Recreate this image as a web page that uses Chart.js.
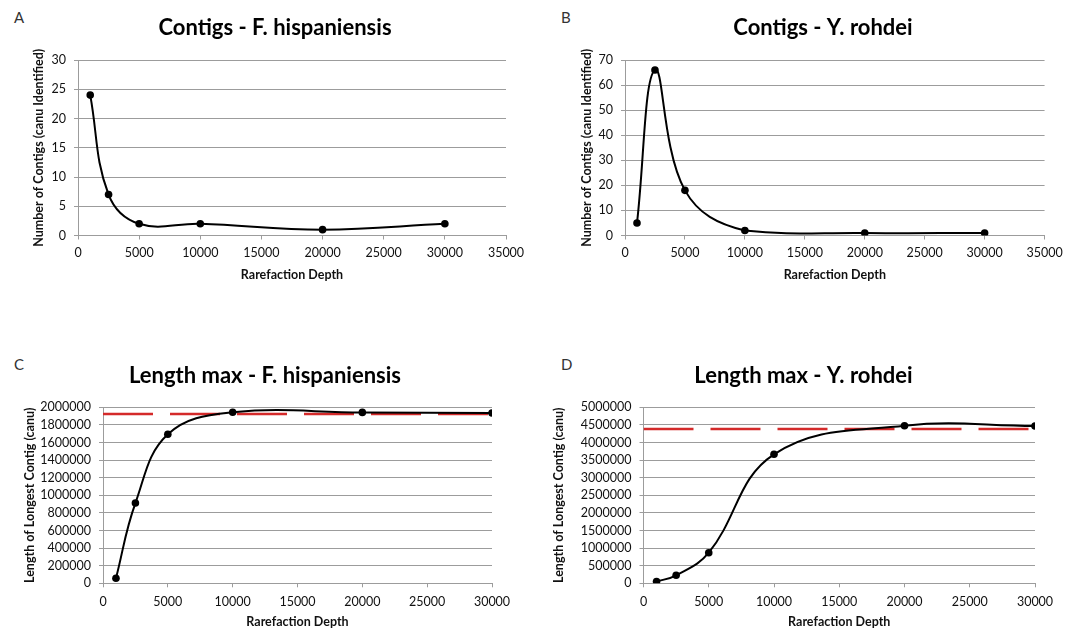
<!DOCTYPE html>
<html lang="en">
<head>
  <meta charset="UTF-8">
  <title>Rarefaction - contigs and longest contig</title>
  <script src="https://cdn.jsdelivr.net/npm/chart.js"></script>
  <style>
    html, body {
      margin: 0;
      padding: 0;
      width: 1069px;
      height: 629px;
      overflow: hidden;
      background: #ffffff;
      font-family: Lato, sans-serif;
    }
    canvas { position: absolute; }
    .tag {
      position: absolute;
      font-size: 15px;
      line-height: 1;
      color: #333;
    }
  </style>
</head>
<body>
  <div class="tag" style="left:14px;top:10px">A</div>
  <div class="tag" style="left:561px;top:10px">B</div>
  <div class="tag" style="left:14px;top:357px">C</div>
  <div class="tag" style="left:561px;top:357px">D</div>

  <canvas id="chartA" width="550" height="290" style="left:0;top:0"></canvas>
  <canvas id="chartB" width="492" height="290" style="left:577px;top:0"></canvas>
  <canvas id="chartC" width="530" height="309" style="left:0;top:320px"></canvas>
  <canvas id="chartD" width="527" height="309" style="left:540px;top:320px"></canvas>

  <script>
    // rarefaction depths
    const depth = [1000, 2500, 5000, 10000, 20000, 30000];

    // number of contigs
    const contigsFhisp = [24, 7, 2, 2, 1, 2];
    const contigsYroh = [5, 66, 18, 2, 1, 1];

    // length of longest contig
    const maxLenFhisp = [57000, 912000, 1693000, 1943000, 1942000, 1936000];
    const maxLenYroh = [48000, 227000, 869000, 3665000, 4477000, 4469000];

    // genome size reference (red dashed)
    const refX = [0, 30000];
    const refFhisp = [1924000, 1924000];
    const refYroh = [4384000, 4384000];

    // tick labels
    const xTicksTop = [0, 5000, 10000, 15000, 20000, 25000, 30000, 35000];
    const xTicksBottom = [0, 5000, 10000, 15000, 20000, 25000, 30000];
    const yTicksA = [0, 5, 10, 15, 20, 25, 30];
    const yTicksB = [0, 10, 20, 30, 40, 50, 60, 70];
    const yTicksC = [0, 200000, 400000, 600000, 800000, 1000000, 1200000, 1400000, 1600000, 1800000, 2000000];
    const yTicksD = [0, 500000, 1000000, 1500000, 2000000, 2500000, 3000000, 3500000, 4000000, 4500000, 5000000];

    const GRID = '#9c9c9c';
    const INK = '#111';

    const pts = (xs, ys) => ys.map((y, i) => ({ x: xs[i], y: y }));

    function makeChart(id, c) {
      const datasets = [{
        data: pts(depth, c.values),
        borderColor: '#000',
        backgroundColor: '#000',
        borderWidth: 2,
        pointRadius: 3.8,
        pointBorderWidth: 0,
        tension: 0.4
      }];
      if (c.ref) {
        datasets.push({
          data: pts(refX, c.ref),
          borderColor: '#d42a2a',
          borderWidth: 2.5,
          borderDash: [50, 17],
          pointRadius: 0,
          tension: 0
        });
      }

      return new Chart(document.getElementById(id), {
        type: 'line',
        data: { datasets: datasets },
        options: {
          responsive: false,
          animation: false,
          layout: { padding: 0 },
          plugins: {
            legend: { display: false },
            tooltip: { enabled: false },
            title: {
              display: true,
              text: c.title,
              color: '#000',
              font: { family: 'Lato', size: 22, weight: 'bold' },
              padding: { top: c.tTop, bottom: c.tBot }
            }
          },
          scales: {
            x: {
              type: 'linear',
              min: 0,
              max: c.xTicks[c.xTicks.length - 1],
              afterBuildTicks: s => { s.ticks = c.xTicks.map(v => ({ value: v })); },
              afterFit: s => { s.height = c.xH; },
              grid: { drawOnChartArea: false, tickLength: 4, color: GRID },
              border: { color: GRID },
              ticks: {
                padding: c.xPad,
                color: INK,
                maxRotation: 0,
                autoSkip: false,
                font: { family: 'Lato', size: 12.5 },
                callback: v => String(v)
              },
              title: {
                display: true,
                text: 'Rarefaction Depth',
                color: INK,
                font: { family: 'Lato', size: 12.5, weight: 'bold' },
                padding: { top: 0, bottom: c.xTitlePad }
              }
            },
            y: {
              min: 0,
              max: c.yTicks[c.yTicks.length - 1],
              afterBuildTicks: s => { s.ticks = c.yTicks.map(v => ({ value: v })); },
              afterFit: s => { s.width = c.yW; },
              grid: { tickLength: 4, color: GRID },
              border: { color: GRID },
              ticks: {
                padding: 8,
                color: INK,
                autoSkip: false,
                font: { family: 'Lato', size: 12.5 },
                callback: v => String(v)
              },
              title: {
                display: true,
                text: c.yTitle,
                color: INK,
                font: { family: 'Lato', size: 12.5, weight: 'bold' },
                padding: { top: c.yTitlePad, bottom: 0 }
              }
            },
            // empty box on the right so the title centres like the original
            pad: {
              position: 'right',
              grid: { display: false },
              border: { display: false },
              ticks: { display: false },
              afterFit: s => { s.width = c.rightW; }
            }
          }
        }
      });
    }

    makeChart('chartA', {
      title: 'Contigs - F. hispaniensis',
      yTitle: 'Number of Contigs (canu Identified)',
      values: contigsFhisp,
      xTicks: xTicksTop, yTicks: yTicksA,
      tTop: 15.1, tBot: 18.5, xH: 54.5, xPad: 6.3, xTitlePad: 7.5,
      yW: 78, yTitlePad: 31.5, rightW: 44
    });

    makeChart('chartB', {
      title: 'Contigs - Y. rohdei',
      yTitle: 'Number of Contigs (canu Identified)',
      values: contigsYroh,
      xTicks: xTicksTop, yTicks: yTicksB,
      tTop: 15.1, tBot: 18.5, xH: 54.5, xPad: 6.3, xTitlePad: 7.5,
      yW: 48, yTitlePad: 2.5, rightW: 18
    });

    makeChart('chartC', {
      title: 'Length max - F. hispaniensis',
      yTitle: 'Length of Longest Contig (canu)',
      values: maxLenFhisp, ref: refFhisp,
      xTicks: xTicksBottom, yTicks: yTicksC,
      tTop: 42.3, tBot: 18.6, xH: 45.7, xPad: 6.9, xTitlePad: 0,
      yW: 103, yTitlePad: 22.9, rightW: 38
    });

    makeChart('chartD', {
      title: 'Length max - Y. rohdei',
      yTitle: 'Length of Longest Contig (canu)',
      values: maxLenYroh, ref: refYroh,
      xTicks: xTicksBottom, yTicks: yTicksD,
      tTop: 42.3, tBot: 18.6, xH: 45.7, xPad: 6.9, xTitlePad: 0,
      yW: 103.5, yTitlePad: 11.9, rightW: 32
    });
  </script>
</body>
</html>
